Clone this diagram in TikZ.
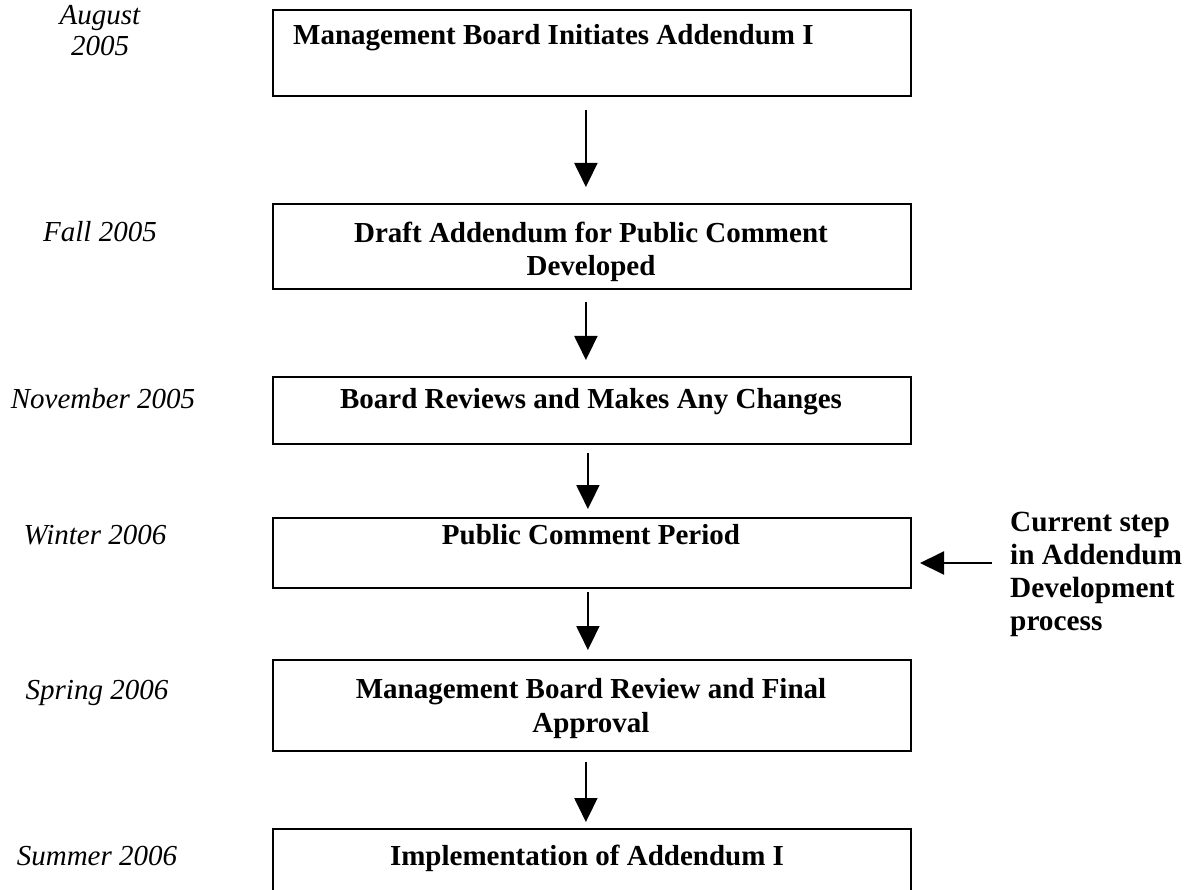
\documentclass[tikz,border=0pt]{standalone}
\usepackage{fontspec}
\setmainfont{Liberation Serif}
\usetikzlibrary{arrows.meta}
\begin{document}
\begin{tikzpicture}[x=1pt,y=-1pt,
  stepbox/.style={draw=black, line width=1.8pt, minimum width=638pt, anchor=north west, inner sep=0pt},
  boxtext/.style={font=\fontsize{29}{33.5}\selectfont\bfseries, align=center, inner sep=0pt, anchor=base},
  datetext/.style={font=\fontsize{29}{31}\selectfont\itshape, align=center, inner sep=0pt, anchor=base},
  notetext/.style={font=\fontsize{29.3}{33}\selectfont\bfseries, align=left, inner sep=0pt, anchor=base west},
  flow/.style={line width=2pt, -{Triangle[width=23pt,length=24pt]}}
]
\useasboundingbox (0,0) rectangle (1194,890);
\clip (0,0) rectangle (1194,890);

% process steps
\node[stepbox, minimum height=86pt] (b1) at (272,9) {};
\node[stepbox, minimum height=85pt] (b2) at (272,203) {};
\node[stepbox, minimum height=67pt] (b3) at (272,376) {};
\node[stepbox, minimum height=70pt] (b4) at (272,517) {};
\node[stepbox, minimum height=91pt] (b5) at (272,659) {};
\node[stepbox, minimum height=90pt] (b6) at (272,828) {};

% step titles (anchor = baseline of the last line)
\node[boxtext, anchor=base west] (t1) at (293,45) {Management Board Initiates Addendum I};
\node[boxtext] (t2) at (591,276) {Draft Addendum for Public Comment\\Developed};
\node[boxtext] (t3) at (591,409) {Board Reviews and Makes Any Changes};
\node[boxtext] (t4) at (591,544) {Public Comment Period};
\node[boxtext] (t5) at (591,732) {Management Board Review and Final\\Approval};
\node[boxtext] (t6) at (587,865) {Implementation of Addendum I};

% dates
\node[datetext] (d1) at (100,56) {August\\2005};
\node[datetext] (d2) at (100,242) {Fall 2005};
\node[datetext] (d3) at (103,409) {November 2005};
\node[datetext] (d4) at (95,544) {Winter 2006};
\node[datetext] (d5) at (97,699) {Spring 2006};
\node[datetext] (d6) at (97,865) {Summer 2006};

% current-step note
\node[notetext] (note) at (1010,630) {Current step\\in Addendum\\Development\\process};
\coordinate (tail) at (992,563);
\coordinate (tip) at (920,563);
\draw[flow] (tail) -- (tip);

% flow arrows
\draw[flow, shorten <=13pt, shorten >=16pt] ([xshift=-6pt]b1.south) -- ([xshift=-6pt]b2.north);
\draw[flow, shorten <=12pt, shorten >=16pt] ([xshift=-6pt]b2.south) -- ([xshift=-6pt]b3.north);
\draw[flow, shorten <=8pt, shorten >=8pt] ([xshift=-4pt]b3.south) -- ([xshift=-4pt]b4.north);
\draw[flow, shorten <=3pt, shorten >=9pt] ([xshift=-4pt]b4.south) -- ([xshift=-4pt]b5.north);
\draw[flow, shorten <=10pt, shorten >=6pt] ([xshift=-6pt]b5.south) -- ([xshift=-6pt]b6.north);
\end{tikzpicture}
\end{document}
